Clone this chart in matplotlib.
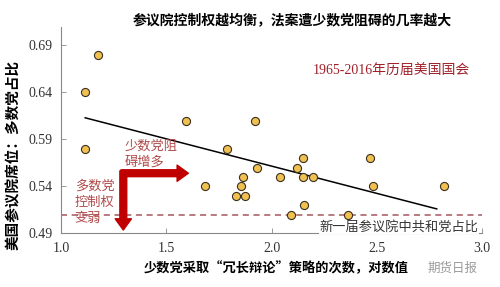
import numpy as np
import matplotlib
matplotlib.use("Agg")
import matplotlib.pyplot as plt

plt.rcParams['font.family'] = ['Liberation Serif', 'Noto Sans CJK SC', 'DejaVu Sans']
CJK = ['Noto Sans CJK SC', 'DejaVu Sans']

# filibuster count (log) vs majority share of Senate seats
filibuster = [1.177, 1.115, 1.592, 1.922, 1.115, 1.787, 1.684, 1.866, 1.854,
              1.830, 1.873, 1.930, 2.040, 2.150, 2.121, 2.150, 2.199, 2.153,
              2.091, 2.362, 2.468, 2.484, 2.821]
majority_share = [0.680, 0.640, 0.610, 0.610, 0.580, 0.580, 0.540, 0.550, 0.540,
                  0.530, 0.530, 0.560, 0.550, 0.570, 0.560, 0.550, 0.550, 0.520,
                  0.510, 0.510, 0.570, 0.540, 0.540]
# fitted trend line end points
trend_x = [1.115, 2.785]
trend_y = [0.613, 0.516]
# majority share in the newest Senate
new_senate = 0.51

xticks = [1.0, 1.5, 2.0, 2.5, 3.0]
yticks = [0.49, 0.54, 0.59, 0.64, 0.69]

fig = plt.figure(figsize=(5, 2.87), dpi=100)
ax = fig.add_axes([0.122, 0.187, 0.842, 0.72])

ax.axhline(new_senate, color='#A5575C', lw=1.1, ls=(0, (4, 3)), zorder=1)
ax.plot(trend_x, trend_y, color='black', lw=1.1, zorder=2)
ax.scatter(filibuster, majority_share, s=34, color='#F0C050',
           edgecolors='#3a3020', linewidths=0.8, zorder=3)

# red L-shaped arrows
red = '#C00000'
astyle = 'simple,head_length=0.9,head_width=1.3,tail_width=0.55'
ax.annotate('', xy=(1.605, 0.554), xytext=(1.285, 0.554),
            arrowprops=dict(arrowstyle=astyle, color=red, mutation_scale=9,
                            shrinkA=0, shrinkB=0), zorder=4)
ax.annotate('', xy=(1.296, 0.4935), xytext=(1.296, 0.5565),
            arrowprops=dict(arrowstyle=astyle, color=red, mutation_scale=9,
                            shrinkA=0, shrinkB=0), zorder=4)

txt_red = '#B04A4A'
ax.text(1.304, 0.5745, '少数党阻\n碍增多', family=CJK, fontsize=9.5,
        color=txt_red, ha='left', va='center', linespacing=1.35)
ax.text(1.065, 0.523, '多数党\n控制权\n变弱', family=CJK, fontsize=9.5,
        color=txt_red, ha='left', va='center', linespacing=1.35)
ax.text(2.568, 0.6625, '1965-2016年历届美国国会', fontsize=10,
        color='#A0202A', ha='center', va='center')
ax.text(2.605, 0.4967, '新一届参议院中共和党占比', family=CJK, fontsize=9.5,
        color='#333333', ha='center', va='center',
        bbox=dict(facecolor='white', edgecolor='none', pad=0.5))

ax.set_xlim(1.0, 3.0)
ax.set_ylim(0.49, 0.71)
ax.set_xticks(xticks)
ax.set_yticks(yticks)
ax.set_xticklabels([f'{v:.1f}' for v in xticks])
ax.set_yticklabels([f'{v:.2f}' for v in yticks])
ax.tick_params(direction='in', length=3.5, width=0.6, color='#888888',
               labelsize=10, labelcolor='#333333', pad=6)
for s in ['top', 'right']:
    ax.spines[s].set_visible(False)
for s in ['left', 'bottom']:
    ax.spines[s].set_color('#888888')
    ax.spines[s].set_linewidth(0.8)

fig.text(0.585, 0.93, '参议院控制权越均衡，法案遭少数党阻碍的几率越大',
         family=CJK, fontsize=10, fontweight='bold', ha='center', va='center')
fig.text(0.553, 0.066, '少数党采取“冗长辩论”策略的次数，对数值',
         family=CJK, fontsize=9.5, fontweight='bold', ha='center', va='center')
fig.text(0.026, 0.46, '美国参议院席位：多数党占比', family=CJK, fontsize=10.5,
         fontweight='bold', rotation=90, ha='center', va='center')
fig.text(0.905, 0.066, '期货日报', family=CJK, fontsize=9,
         color='#9a9a9a', ha='center', va='center')

fig.savefig('out.png', dpi=100)
